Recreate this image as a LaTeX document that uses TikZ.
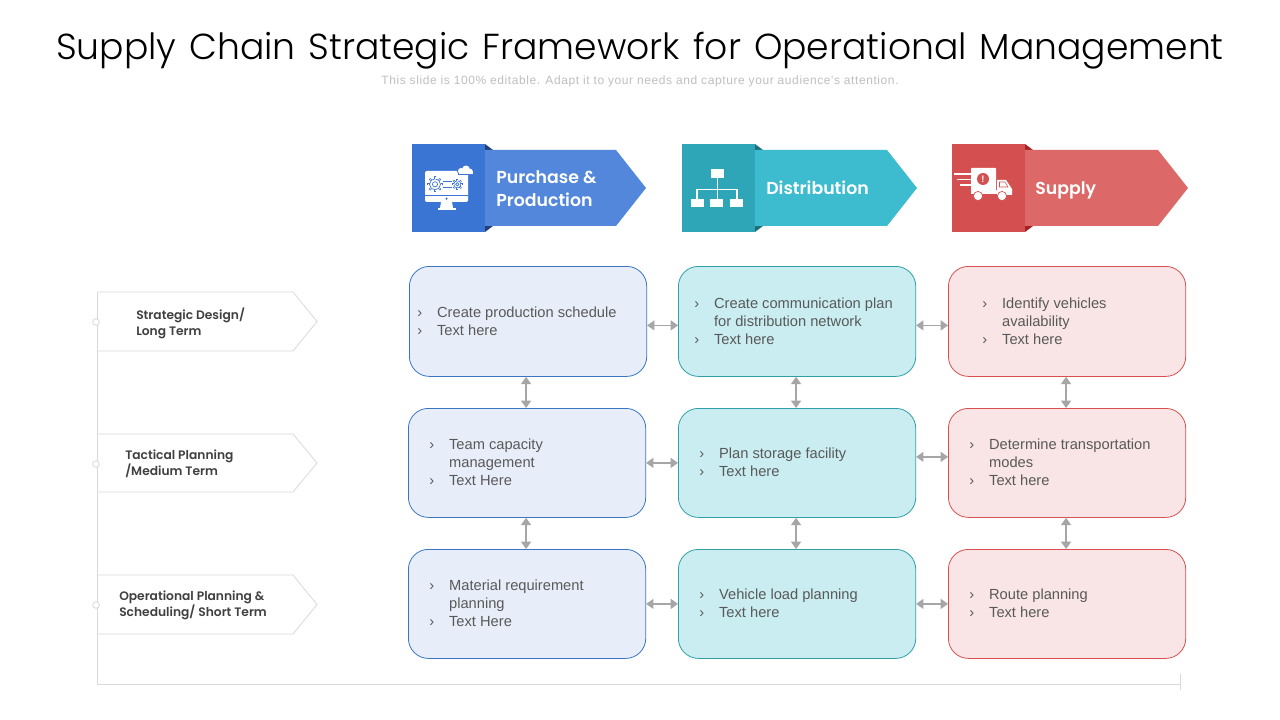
\documentclass[tikz,border=0pt]{standalone}
\usepackage{fontspec}
\setmainfont{Liberation Sans}
\newfontfamily\titlefont[WordSpace=1.3]{Poppins Light}
\newfontfamily\subfont[LetterSpace=4.9]{Liberation Sans}
\newfontfamily\headfont{Poppins SemiBold}
\usetikzlibrary{arrows.meta,calc}
\definecolor{txt}{HTML}{595959}
\definecolor{lblt}{HTML}{404040}
\definecolor{arrc}{HTML}{A6A6A6}
\definecolor{linec}{HTML}{D9D9D9}
\definecolor{bs}{HTML}{3A75D3}\definecolor{ba}{HTML}{5287DB}\definecolor{bf}{HTML}{1F3F80}\definecolor{bl}{HTML}{E8EEF9}\definecolor{bd}{HTML}{3A75C4}
\definecolor{ts}{HTML}{2FA6B8}\definecolor{ta}{HTML}{3CBCCE}\definecolor{tf}{HTML}{1F6E7E}\definecolor{tl}{HTML}{C9EDF1}\definecolor{td}{HTML}{2FA0A8}
\definecolor{rs}{HTML}{D45050}\definecolor{ra}{HTML}{DC6868}\definecolor{rf}{HTML}{A82020}\definecolor{rl}{HTML}{F9E5E5}\definecolor{rd}{HTML}{D84F4F}
\newcommand{\items}[1]{\begin{tabular}{@{}l@{\hskip 11.25pt}l@{}}#1\end{tabular}}
\tikzset{
 x=0.75pt,y=-0.75pt,
 card/.style={draw=#1,line width=0.6pt,rounded corners=15pt,inner sep=0pt,anchor=north west},
 itemtext/.style={anchor=west,inner sep=0pt,text=txt,font=\fontsize{11}{13.2}\selectfont},
 twoway/.style={arrc,line width=1pt,{Triangle[length=5.5pt,width=7.5pt]}-{Triangle[length=5.5pt,width=7.5pt]}},
 headtext/.style={anchor=base west,inner sep=0pt,text=white,align=left,font=\headfont\fontsize{13}{17.4}\selectfont},
 sidetext/.style={anchor=west,inner sep=0pt,text=lblt,align=left,font=\headfont\fontsize{9.2}{12}\selectfont},
 tag/.style={draw=linec,line width=0.6pt,fill=white},
 dot/.style={circle,draw=linec,fill=white,line width=0.6pt,minimum size=5pt,inner sep=0pt},
}
\begin{document}
\begin{tikzpicture}
\useasboundingbox (0,0) rectangle (1280,720);
\fill[white] (0,0) rectangle (1280,720);
\node[inner sep=0pt,font=\titlefont\fontsize{27.1}{32}\selectfont] (title) at (640,51) {Supply Chain Strategic Framework for Operational Management};
\node[inner sep=0pt,text=black!25,font=\subfont\fontsize{9}{11}\selectfont] (sub) at (640,81) {This slide is 100\% editable. Adapt it to your needs and capture your audience's attention.};
% side tags
\foreach \t/\b/\m in {292/351/321.5,434/492/463,575/634/604.5}{
 \draw[tag] (97,\t) -- (293,\t) -- (317,\m) -- (293,\b) -- (97,\b);
}
% timeline
\coordinate (tlTop) at (97,292);
\coordinate (tlCorner) at (97,684);
\coordinate (tlEnd) at (1180,684);
\coordinate (tlTick) at (1180,690);
\draw[linec,line width=0.6pt] (tlTop) -- (tlCorner) -- (tlEnd);
\draw[linec,line width=0.6pt] (1180,674) -- (tlTick);
\foreach \m in {322,464,605}{\node[dot] at (96,\m) {};}
\node[sidetext] (s1) at (136,323) {Strategic Design/\\Long Term};
\node[sidetext] (s2) at (125,464) {Tactical Planning\\/Medium Term};
\node[sidetext] (s3) at (119,605) {Operational Planning \&\\Scheduling/ Short Term};
% headers
\foreach \x/\s/\a/\f/\sh/\tp in {412/bs/ba/bf/204/234,682/ts/ta/tf/205/235,952/rs/ra/rf/206/236}{
 \fill[\f] (\x+73,144) -- (\x+81,150) -- (\x+73,150) -- cycle;
 \fill[\f] (\x+73,232) -- (\x+81,226) -- (\x+73,226) -- cycle;
 \fill[\a] (\x+73,150) -- (\x+\sh,150) -- (\x+\tp,188) -- (\x+\sh,226) -- (\x+73,226) -- cycle;
 \fill[\s] (\x,144) rectangle (\x+73,232);
}
\node[headtext] (h1) at (496,206.5) {Purchase \&\\Production};
\node[headtext] (h2) at (766,195) {Distribution};
\node[headtext] (h3) at (1035,195) {Supply};
% icon: monitor
\fill[white,rounded corners=1pt] (425,171) rectangle (468,202);
\fill[bs] (425,195) rectangle (468,196);
\fill[white] (441,202) -- (452,202) -- (453,208) -- (440,208) -- cycle;
\fill[white] (438,208) rectangle (456,210);
\fill[bs] (446.5,198.7) circle (1.2);
\foreach \cx/\cy/\cr in {461/171/3,466/169.5/4,470/171.5/2.8}{\fill[bs] (\cx,\cy) circle (\cr+1);}
\fill[bs] (458,171) rectangle (473.5,175.3);
\foreach \cx/\cy/\cr in {461/171/3,466/169.5/4,470/171.5/2.8}{\fill[white] (\cx,\cy) circle (\cr);}
\fill[white] (459,171.5) rectangle (472.5,174.3);
\foreach \gx/\gy/\ro/\ri/\rc in {435/184.3/7.8/5.5/2.6,457.3/184.3/5.4/3.6/1.7}{
 \draw[bs,line width=0.5pt] (\gx,\gy) circle (\ri);
 \draw[bs,line width=0.5pt] (\gx,\gy) circle (\rc);
 \foreach \an in {0,45,...,315}{\draw[bs,line width=1.4pt] ($(\gx,\gy)+(\an:\ri)$) -- ($(\gx,\gy)+(\an:\ro)$);
  \draw[white,line width=0.5pt] ($(\gx,\gy)+(\an:\ri+0.2)$) -- ($(\gx,\gy)+(\an:\ro-0.8)$);}
}
\draw[bs,line width=0.5pt] (442.5,181.5) -- (452,181.5) (442.5,187) -- (452,187);
% icon: hierarchy
\fill[white] (711,169) rectangle (724,178);
\foreach \ix in {691,710,730}{\fill[white] (\ix,199) rectangle (\ix+13,207);}
\draw[white,line width=1.1pt] (717.5,178) -- (717.5,199) (697,199) -- (697,189.5) -- (737,189.5) -- (737,199);
% icon: truck
\fill[white,rounded corners=0.5pt] (971,168) rectangle (996,190);
\fill[white] (997,180) -- (1006,180) -- (1012,189) -- (1012,195) -- (997,195) -- cycle;
\fill[white] (971,190) rectangle (1012,194);
\draw[rs,line width=0.4pt] (999.5,182) -- (1005,182) -- (1008,187) -- (999.5,187) -- cycle;
\foreach \ix in {978,1002}{\fill[white] (\ix,196) circle (4.6); \draw[rs,line width=0.5pt] (\ix,196) circle (4.6);}
\draw[white,line width=1.1pt] (954,174) -- (971,174) (957,179.5) -- (971,179.5) (960,185) -- (971,185);
\fill[rs] (983,179) circle (6);
\node[inner sep=0pt,text=white,font=\bfseries\fontsize{7}{7}\selectfont] (bang) at (983,179) {!};
% cards
\node[card=bd,fill=bl,minimum width=178pt,minimum height=82.5pt] (b11) at (409,266) {};
\node[card=bd,fill=bl,minimum width=178pt,minimum height=81.75pt] (b21) at (408,408) {};
\node[card=bd,fill=bl,minimum width=178pt,minimum height=81.75pt] (b31) at (408,549) {};
\node[card=td,fill=tl,minimum width=178pt,minimum height=82.5pt] (b12) at (678,266) {};
\node[card=td,fill=tl,minimum width=178pt,minimum height=81.75pt] (b22) at (678,408) {};
\node[card=td,fill=tl,minimum width=178pt,minimum height=81.75pt] (b32) at (678,549) {};
\node[card=rd,fill=rl,minimum width=178pt,minimum height=82.5pt] (b13) at (948,266) {};
\node[card=rd,fill=rl,minimum width=178pt,minimum height=81.75pt] (b23) at (948,408) {};
\node[card=rd,fill=rl,minimum width=178pt,minimum height=81.75pt] (b33) at (948,549) {};
% card texts
\node[itemtext] (t11) at (417,323) {\items{›&Create production schedule\\›&Text here}};
\node[itemtext] (t12) at (694,323) {\items{›&Create communication plan\\&for distribution network\\›&Text here}};
\node[itemtext] (t13) at (982,323) {\items{›&Identify vehicles\\&availability\\›&Text here}};
\node[itemtext] (t21) at (429,464) {\items{›&Team capacity\\&management\\›&Text Here}};
\node[itemtext] (t22) at (699,464) {\items{›&Plan storage facility\\›&Text here}};
\node[itemtext] (t23) at (969,464) {\items{›&Determine transportation\\&modes\\›&Text here}};
\node[itemtext] (t31) at (429,605) {\items{›&Material requirement\\&planning\\›&Text Here}};
\node[itemtext] (t32) at (699,605) {\items{›&Vehicle load planning\\›&Text here}};
\node[itemtext] (t33) at (969,605) {\items{›&Route planning\\›&Text here}};
% horizontal arrows
\draw[twoway] ([yshift=-3pt]b11.east) -- ([yshift=-3pt]b12.west);
\draw[twoway] ([yshift=-3pt]b12.east) -- ([yshift=-3pt]b13.west);
\draw[twoway] ([yshift=0pt]b21.east) -- ([yshift=0pt]b22.west);
\draw[twoway] ([yshift=4.5pt]b22.east) -- ([yshift=4.5pt]b23.west);
\draw[twoway] ([yshift=0pt]b31.east) -- ([yshift=0pt]b32.west);
\draw[twoway] ([yshift=0pt]b32.east) -- ([yshift=0pt]b33.west);
% vertical arrows
\draw[twoway] ([xshift=-1.5pt]b11.south) -- ([xshift=-0.75pt]b21.north);
\draw[twoway] ([xshift=-0.75pt]b21.south) -- ([xshift=-0.75pt]b31.north);
\draw[twoway] ([xshift=-0.75pt]b12.south) -- ([xshift=-0.75pt]b22.north);
\draw[twoway] ([xshift=-0.75pt]b22.south) -- ([xshift=-0.75pt]b32.north);
\draw[twoway] ([xshift=-0.75pt]b13.south) -- ([xshift=-0.75pt]b23.north);
\draw[twoway] ([xshift=-0.75pt]b23.south) -- ([xshift=-0.75pt]b33.north);
\end{tikzpicture}
\end{document}
